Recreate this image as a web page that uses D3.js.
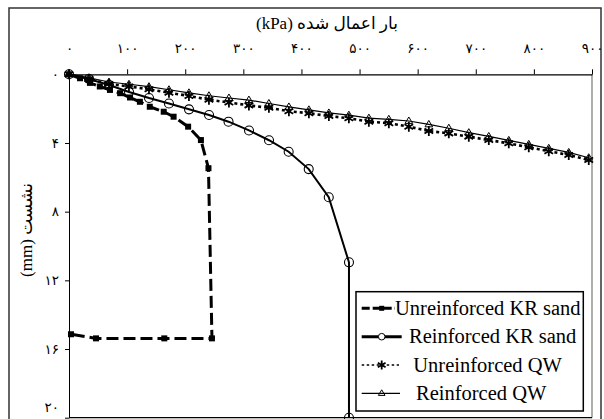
<!DOCTYPE html>
<html><head><meta charset="utf-8">
<script src="https://cdn.jsdelivr.net/npm/d3@7"></script>
<style>
body{margin:0;background:#fff}
svg{display:block}
</style></head>
<body><svg id="c" width="604" height="419"></svg>
<script>
// ---- data ----
const xTicks = [0,100,200,300,400,500,600,700,800,900];
const yTicks = [0,4,8,12,16,20];
const seriesNames = ["Unreinforced KR sand","Reinforced KR sand","Unreinforced QW","Reinforced QW"];

const loadKRU = [0,19,36,53,70.5,88,105,122,139,163,180,205,227,240,246,164,46.5,3.4];
const setKRU  = [0,0.23,0.5,0.71,0.91,1.1,1.35,1.6,1.89,2.18,2.47,3.05,3.83,5.47,15.38,15.38,15.38,15.14];

const loadKRR = [0,34.4,68.8,103.3,137.7,172,206.5,241,274.5,309.8,344.2,378,412.5,447,481.8,481.8];
const setKRR  = [0,0.27,0.62,1.03,1.38,1.70,2.04,2.37,2.76,3.27,3.84,4.51,5.52,7.16,10.95,20];

const loadQW = [0,34.4,68.8,103.2,137.6,172,206.4,240.8,275.2,309.6,344,378.4,412.8,447.2,481.6,516,550.4,584.8,619.2,653.6,688,722.4,756.8,791.2,825.6,860,894.4];
const setQWU = [0,0.27,0.56,0.71,0.87,1.07,1.26,1.48,1.64,1.81,1.95,2.15,2.27,2.43,2.56,2.76,2.85,3.05,3.30,3.44,3.63,3.83,4.02,4.25,4.48,4.70,4.99];
const setQWR = [0,0.2,0.45,0.58,0.72,0.9,1.08,1.25,1.38,1.5,1.7,1.9,2.07,2.25,2.38,2.55,2.62,2.72,2.92,3.14,3.4,3.62,3.85,4.08,4.31,4.55,4.86];

const fa = s => String(s).replace(/\d/g, d => "۰۱۲۳۴۵۶۷۸۹"[d]);
const SERIF = '"Liberation Serif","Times New Roman","DejaVu Serif",serif';
const MIX = '"Liberation Serif","DejaVu Sans",serif';

const svg = d3.select("#c");
const x = d3.scaleLinear().domain([0,900]).range([69,592]);
const y = d3.scaleLinear().domain([0,20]).range([74.3,417.7]);

// outer frame
svg.append("rect").attr("x",9).attr("y",8).attr("width",592).attr("height",420)
  .attr("fill","none").attr("stroke","#333").attr("stroke-width",1.5);

// plot frame (right, bottom)
svg.append("line").attr("x1",592).attr("x2",592).attr("y1",74.3).attr("y2",417.7).attr("stroke","#777").attr("stroke-width",1.2);
svg.append("line").attr("x1",69).attr("x2",592).attr("y1",417.7).attr("y2",417.7).attr("stroke","#000").attr("stroke-width",1.2);

// axes
const gx = svg.append("g").attr("transform",`translate(0,${y(0)})`)
  .call(d3.axisTop(x).tickValues(xTicks).tickSize(5).tickSizeOuter(0).tickPadding(16).tickFormat(fa));
gx.select(".domain").attr("stroke-width",1.3);
gx.selectAll("text").style("font-family","DejaVu Sans").style("font-size","13.5px");

const gy = svg.append("g").attr("transform",`translate(${x(0)},0)`)
  .call(d3.axisLeft(y).tickValues(yTicks).tickSize(4).tickSizeOuter(0).tickPadding(6).tickFormat(fa));
gy.selectAll("text").style("font-family","DejaVu Sans").style("font-size","13.5px");
gy.selectAll(".tick").filter(d=>d===20).select("text").attr("dy","-0.45em");

// titles
svg.append("text").attr("x",327).attr("y",29).attr("text-anchor","middle")
  .attr("direction","rtl").style("font-family",MIX).style("font-size","17px").text("بار اعمال شده (kPa)");
svg.append("text").attr("transform","translate(32,230) rotate(-90)").attr("text-anchor","middle")
  .attr("direction","rtl").style("font-family",MIX).style("font-size","17px").text("نشست (mm)");

// line helper
const mk = (xs, ys) => xs.map((v,i)=>[v, ys[i]]);
const line = d3.line().x(d=>x(d[0])).y(d=>y(d[1]));

const dKRU = mk(loadKRU,setKRU), dKRR = mk(loadKRR,setKRR), dQWU = mk(loadQW,setQWU), dQWR = mk(loadQW,setQWR);

// marker drawers
const starPath = r => {
  const a = Math.PI/3, s = [];
  for (let k=0;k<3;k++){const t=Math.PI/2 + k*a; s.push(`M${-r*Math.cos(t)},${-r*Math.sin(t)}L${r*Math.cos(t)},${r*Math.sin(t)}`);}
  return s.join("");
};
const triPath = r => `M0,${-r}L${r*0.95},${r*0.6}L${-r*0.95},${r*0.6}Z`;

function drawStar(g, px, py, r){ g.append("path").attr("transform",`translate(${px},${py})`).attr("d",starPath(r)).attr("stroke","#000").attr("stroke-width",1.8).attr("fill","none"); }
function drawTri(g, px, py, r){ g.append("path").attr("transform",`translate(${px},${py})`).attr("d",triPath(r)).attr("stroke","#000").attr("stroke-width",1).attr("fill","none"); }
function drawCirc(g, px, py, r){ g.append("circle").attr("cx",px).attr("cy",py).attr("r",r).attr("fill","none").attr("stroke","#000").attr("stroke-width",1.1); }
function drawSq(g, px, py, s){ g.append("rect").attr("x",px-s/2).attr("y",py-s/2).attr("width",s).attr("height",s).attr("fill","#000"); }

const plot = svg.append("g");
// Reinforced QW (thin solid)
plot.append("path").datum(dQWR).attr("d",line).attr("fill","none").attr("stroke","#000").attr("stroke-width",1.2);
// Unreinforced QW (dotted)
plot.append("path").datum(dQWU).attr("d",line).attr("fill","none").attr("stroke","#000").attr("stroke-width",2.6).attr("stroke-dasharray","3,3");
// Reinforced KR (solid thick)
plot.append("path").datum(dKRR).attr("d",line).attr("fill","none").attr("stroke","#000").attr("stroke-width",2);
// Unreinforced KR (dashed thick)
plot.append("path").datum(dKRU).attr("d",line).attr("fill","none").attr("stroke","#000").attr("stroke-width",3).attr("stroke-dasharray","12,5");

dQWR.forEach(d=>drawTri(plot, x(d[0]), y(d[1]), 4));
dQWU.forEach(d=>drawStar(plot, x(d[0]), y(d[1]), 5));
dKRR.forEach(d=>drawCirc(plot, x(d[0]), y(d[1]), 4.5));
dKRU.forEach(d=>drawSq(plot, x(d[0]), y(d[1]), 6));

// legend
const lg = svg.append("g");
lg.append("rect").attr("x",356).attr("y",291.7).attr("width",227.3).attr("height",119.3)
  .attr("fill","#fff").attr("stroke","#000").attr("stroke-width",1.5);
const ly = [308.3,336.7,365,393.3];
const lx2 = [395,401.7,399,400];
const tx = [395,409,413.3,416];
const styles = [
  {w:3, dash:"8,3"}, {w:3, dash:null}, {w:1.5, dash:"2.5,2.5"}, {w:1.2, dash:null}
];
seriesNames.forEach((name,i)=>{
  const l = lg.append("line").attr("x1",361.7).attr("x2",lx2[i]).attr("y1",ly[i]).attr("y2",ly[i])
    .attr("stroke","#000").attr("stroke-width",styles[i].w);
  if (styles[i].dash) l.attr("stroke-dasharray",styles[i].dash);
  const mx = 381.7;
  if (i===0) drawSq(lg, mx, ly[i], 5);
  if (i===1) { lg.append("circle").attr("cx",mx).attr("cy",ly[i]).attr("r",3.3).attr("fill","#fff").attr("stroke","#000").attr("stroke-width",1); }
  if (i===2) drawStar(lg, mx, ly[i], 4.5);
  if (i===3) drawTri(lg, mx, ly[i], 3.5);
  lg.append("text").attr("x",tx[i]).attr("y",ly[i]+6.5).style("font-family",SERIF).style("font-size","20.5px").text(name);
});
</script></body></html>
